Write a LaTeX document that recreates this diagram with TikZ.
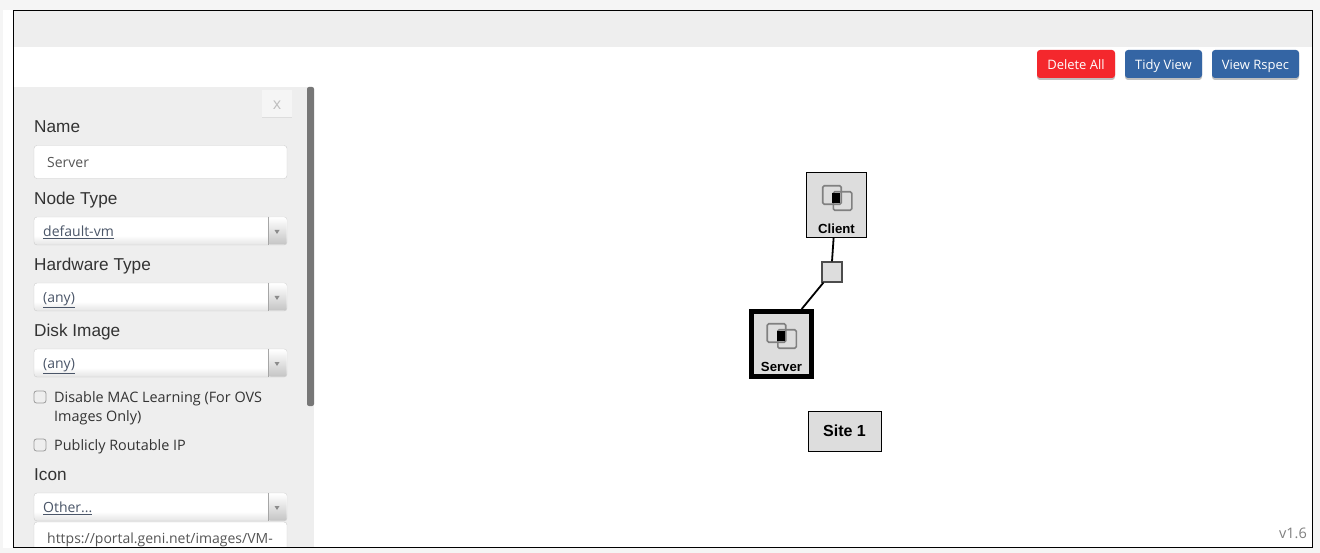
\documentclass[tikz,border=0pt]{standalone}
\usepackage{fontspec}
\setmainfont{Open Sans}
\newfontfamily\labelfont{Liberation Sans}
\usetikzlibrary{
    shadows,
    positioning
}
\definecolor{panelgray}{HTML}{EEEEEE}
\definecolor{outergray}{HTML}{F5F5F5}
\definecolor{nodegray}{HTML}{DDDDDD}
\definecolor{scrollgray}{HTML}{777777}
\definecolor{inputline}{HTML}{CCCCCC}
\definecolor{inputtext}{HTML}{555555}
\definecolor{linktext}{HTML}{4A5568}
\definecolor{labeltext}{HTML}{333333}
\definecolor{deletered}{HTML}{F4282D}
\definecolor{viewblue}{HTML}{3465A4}
\definecolor{selectlow}{HTML}{E4E4E4}
\definecolor{arrowlow}{HTML}{C4C4C4}
\pgfdeclareverticalshading{selectshade}{100bp}{color(0bp)=(selectlow); color(25bp)=(selectlow); color(42bp)=(white); color(100bp)=(white)}
\pgfdeclareverticalshading{arrowshade}{100bp}{color(0bp)=(arrowlow); color(25bp)=(arrowlow); color(60bp)=(panelgray); color(75bp)=(white); color(100bp)=(white)}
\tikzset{
    fieldlabel/.style={anchor=base west, inner sep=0pt, text=labeltext, font=\labelfont\fontsize{17.2}{19}\selectfont},
    fieldtext/.style={anchor=base west, inner sep=0pt, text=inputtext, font=\fontsize{14}{16}\selectfont},
    linktxt/.style={anchor=base west, inner sep=0pt, text=linktext, font=\fontsize{14}{16}\selectfont},
    checktext/.style={anchor=base west, inner sep=0pt, text=labeltext, font=\fontsize{14.4}{16}\selectfont},
    inputbox/.style={draw=inputline, fill=white, rounded corners=3pt, minimum width=253pt, inner sep=0pt},
    selectbox/.style={draw=inputline, shading=selectshade, rounded corners=3pt, minimum width=253pt, minimum height=28pt, inner sep=0pt},
    toolbtn/.style={rounded corners=3pt, text=white, inner sep=0pt, minimum height=28pt, text height=13pt, text depth=2pt, font=\fontsize{13}{15}\selectfont, drop shadow={shadow xshift=0pt, shadow yshift=-2pt, opacity=0.25, fill=black}},
    checkbox/.style={draw=gray!80, line width=0.8pt, fill=panelgray, rounded corners=2.5pt, minimum size=12pt, inner sep=0pt},
    vmnode/.style={draw=black, fill=nodegray, inner sep=0pt},
    nodename/.style={inner sep=0pt, font=\labelfont\bfseries\fontsize{13.2}{15}\selectfont},
    icosquare/.style={draw=gray, line width=1.6pt, rounded corners=1.5pt, minimum size=18.5pt, inner sep=0pt}
}
\newcommand{\vmicon}[3]{
    \node[icosquare] (#1a) at (#2, #3) {};
    \node[icosquare, right=-9.5pt of #1a.south east, anchor=south west, yshift=-6pt] (#1b) {};
    \node[fill=black, minimum width=8pt, minimum height=10pt, inner sep=0pt] (#1c) at (#2+4, #3+3) {};
}
\begin{document}
\begin{tikzpicture}[x=1pt, y=-1pt]
    \useasboundingbox (0, 0) rectangle (1320, 553);
    \fill[outergray] (0, 0) rectangle (1320, 553);
    \fill[white] (3, 10) rectangle (1313, 548);
    \fill[panelgray] (14, 11) rectangle (1312, 47);
    \fill[panelgray] (14, 87) rectangle (314, 547);
    \fill[scrollgray, rounded corners=2pt] (307, 87) rectangle (314, 406);

    \node[fill=outergray, drop shadow={shadow xshift=0pt, shadow yshift=-1pt, opacity=0.07, fill=black}, minimum width=30pt, minimum height=27pt, inner sep=0pt, text=gray!50, text height=11pt, text depth=0.5pt, font=\fontsize{16}{18}\selectfont] (closebtn) at (277, 104) {x};

    \node[fieldlabel] (namelabel) at (34, 132.5) {Name};
    \node[inputbox, minimum height=33pt] (namebox) at (160.5, 162) {};
    \node[fieldtext] (nametext) at (47, 168) {Server};

    \node[fieldlabel] (typelabel) at (34, 204.5) {Node Type};
    \node[fieldlabel] (hwlabel) at (34, 270.5) {Hardware Type};
    \node[fieldlabel] (disklabel) at (34, 336.5) {Disk Image};
    \node[fieldlabel] (iconlabel) at (34, 480.5) {Icon};

    \foreach \nm/\y/\txt in {type/231/default-vm, hw/297/{(any)}, disk/363/{(any)}, icon/507/{Other...}} {
        \node[selectbox] (\nm box) at (160.5, \y) {};
        \shade[shading=arrowshade, rounded corners=2pt] (268.5, \y-13.5) rectangle (286.5, \y+13.5);
        \draw[gray!70] (268.5, \y-14) -- (268.5, \y+14);
        \fill[gray!90] (274.5, \y-1) -- (279.5, \y-1) -- (277, \y+3) -- cycle;
        \node[linktxt] (\nm text) at (43, \y+5.5) {\underline{\txt}};
    }

    \node[checkbox] (maccheck) at (40, 397) {};
    \node[checktext] (mactext) at (54, 402) {Disable MAC Learning (For OVS};
    \node[checktext] (mactextb) at (54, 421) {Images Only)};
    \node[checkbox] (ipcheck) at (40, 445) {};
    \node[checktext] (iptext) at (54, 450) {Publicly Routable IP};

    \begin{scope}
        \clip (14, 515) rectangle (314, 547);
        \node[inputbox, minimum height=33pt] (urlbox) at (160.5, 538.5) {};
        \node[fieldtext] (urltext) at (47, 543.5) {https://portal.geni.net/images/VM-};
    \end{scope}

    \node[toolbtn, fill=deletered, minimum width=78pt] (deletebtn) at (1076, 64) {Delete All};
    \node[toolbtn, fill=viewblue, minimum width=77pt] (tidybtn) at (1163.5, 64) {Tidy View};
    \node[toolbtn, fill=viewblue, minimum width=87pt] (rspecbtn) at (1255.5, 64) {View Rspec};

    \node[vmnode, line width=0.9pt, minimum width=60pt, minimum height=65pt] (client) at (836.5, 205) {};
    \node[draw=black!70, fill=nodegray, line width=1.2pt, minimum size=20pt, inner sep=0pt] (link) at (832, 272) {};
    \node[vmnode, line width=5pt, minimum width=60pt, minimum height=65pt] (server) at (781.5, 344) {};
    \node[vmnode, minimum width=73pt, minimum height=40pt, text height=12pt, text depth=3pt, font=\labelfont\bfseries\fontsize{16}{18}\selectfont] (site) at (844.5, 431.5) {Site 1};

    \draw[line width=1.8pt]
    (client.265) -- (link.90)
    (link.231) -- (server.60);

    \vmicon{clienticon}{832}{195}
    \node[nodename] (clientname) at (836.5, 228.5) {Client};
    \vmicon{servericon}{776.5}{333}
    \node[nodename] (servername) at (781.5, 366.5) {Server};

    \node[anchor=base east, inner sep=0pt, text=gray, font=\fontsize{14.5}{16}\selectfont] (version) at (1307, 538) {v1.6};

    \draw[black, line width=0.9pt] (13.5, 10.5) rectangle (1312.5, 547);
\end{tikzpicture}
\end{document}
